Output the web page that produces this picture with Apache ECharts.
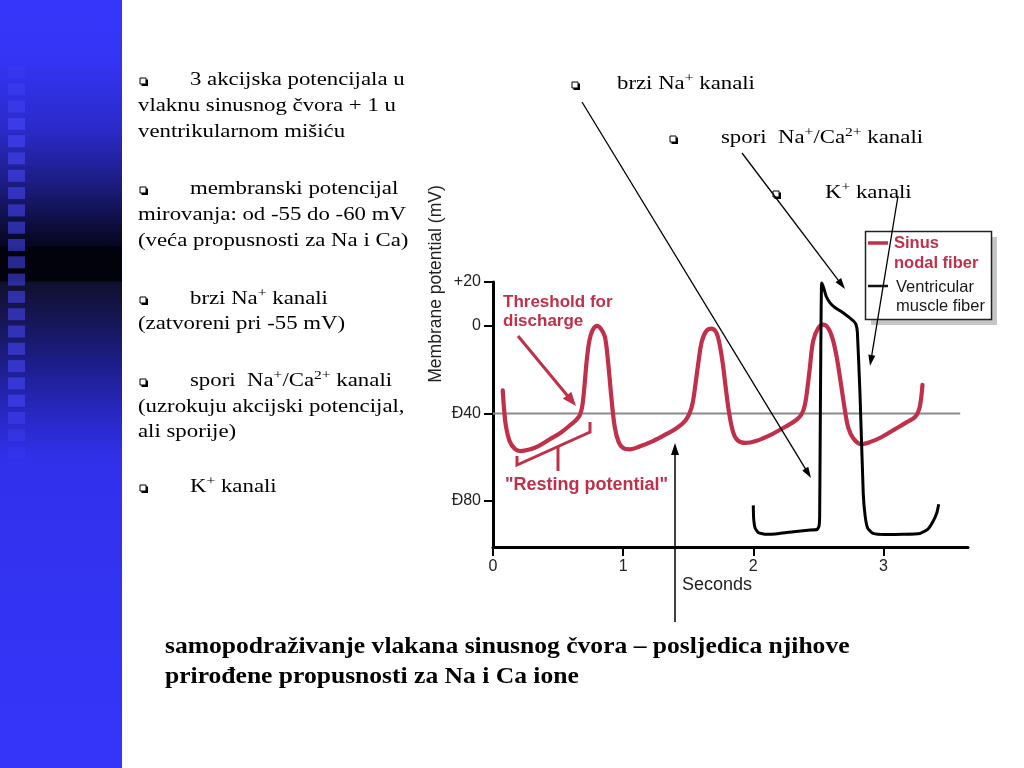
<!DOCTYPE html>
<html><head><meta charset="utf-8">
<script src="https://cdn.jsdelivr.net/npm/echarts@6/dist/echarts.min.js"></script>
<style>html,body{margin:0;padding:0;background:#fff}#c{width:1024px;height:768px}</style>
</head><body><div id="c"></div>
<script>
// ---- data (seconds, mV) ----
const sinusNodal = [
  [0.075,-29.5],[0.085,-38],[0.10,-46],[0.13,-53],[0.17,-56.3],[0.21,-57.2],[0.28,-56.5],[0.34,-55.2],
  [0.43,-52],[0.52,-48.8],[0.60,-45],[0.65,-42.3],[0.675,-39.5],[0.69,-35],[0.705,-26],[0.72,-16],
  [0.74,-7],[0.765,-2],[0.80,0],[0.83,-1.5],[0.86,-5],[0.885,-17],[0.91,-33],[0.935,-46],[0.965,-53],
  [1.00,-55.8],[1.054,-56.4],[1.13,-55],[1.233,-52.5],[1.33,-49.5],[1.41,-46.8],[1.475,-43.5],[1.51,-40],
  [1.535,-35],[1.555,-27],[1.58,-16],[1.605,-7],[1.64,-2.3],[1.68,-1.3],[1.715,-3],[1.74,-8],
  [1.765,-17],[1.79,-29],[1.815,-40],[1.845,-48.5],[1.88,-52.3],[1.94,-53.5],[2.02,-52.6],[2.15,-49.3],
  [2.25,-46],[2.33,-43],[2.37,-40.5],[2.395,-36.5],[2.415,-29],[2.435,-19],[2.46,-7],[2.50,-1],
  [2.54,0.5],[2.58,-1.5],[2.61,-6],[2.64,-14],[2.67,-25],[2.70,-37],[2.73,-46.5],[2.77,-51.5],
  [2.83,-54],[2.90,-53],[2.98,-51],[3.08,-47.5],[3.18,-44],[3.245,-41.5],[3.275,-38],[3.29,-33],[3.30,-27]
];
const ventricular = [
  [2.00,-82],[2.003,-88],[2.015,-92.5],[2.04,-94.5],[2.10,-95.2],[2.20,-94.8],[2.31,-94],[2.42,-93.3],
  [2.49,-93],[2.505,-91.5],[2.51,-87],[2.525,19.5],[2.54,17.5],[2.56,13.5],[2.59,10.5],[2.625,8.5],
  [2.70,5.5],[2.77,2.2],[2.79,0.5],[2.80,-3],[2.82,-31],[2.845,-76.5],[2.86,-87],[2.88,-92.5],
  [2.92,-94.8],[3.02,-95.3],[3.15,-95.2],[3.28,-94.8],[3.34,-93],[3.38,-89.5],[3.41,-85.5],[3.425,-81.5]
];
const thresholdLevel = [[0,-40],[3.59,-40]];
const yTickValues = [20, 0, -40, -80];
const yTickLabels = ['+20', '0', 'Ð40', 'Ð80'];
const xTickValues = [0, 1, 2, 3];
const xTickLabels = ['0', '1', '2', '3'];
const seriesNames = ['Sinus\nnodal fiber', 'Ventricular\nmuscle fiber'];
const leftLines = [
  {b:true,  x:190, base:86,  t:'3 akcijska potencijala u'},
  {b:false, x:138, base:112, t:'vlaknu sinusnog čvora + 1 u'},
  {b:false, x:138, base:138, t:'ventrikularnom mišiću'},
  {b:true,  x:190, base:195, t:'membranski potencijal'},
  {b:false, x:138, base:221, t:'mirovanja: od -55 do -60 mV'},
  {b:false, x:138, base:247, t:'(veća propusnosti za Na i Ca)'},
  {b:true,  x:190, base:305, t:'brzi Na^{+} kanali'},
  {b:false, x:138, base:330, t:'(zatvoreni pri -55 mV)'},
  {b:true,  x:190, base:387, t:'spori  Na^{+}/Ca^{2+} kanali'},
  {b:false, x:138, base:413, t:'(uzrokuju akcijski potencijal,'},
  {b:false, x:138, base:438, t:'ali sporije)'},
  {b:true,  x:190, base:493, t:'K^{+} kanali'}
];
const rightLines = [
  {bx:572, x:617, base:90,  t:'brzi Na^{+} kanali'},
  {bx:670, x:721, base:144, t:'spori  Na^{+}/Ca^{2+} kanali'},
  {bx:773, x:825, base:199, t:'K^{+} kanali'}
];
const bottomLines = [
  {x:165, base:655, t:'samopodraživanje vlakana sinusnog čvora – posljedica njihove'},
  {x:165, base:685, t:'prirođene propusnosti za Na i Ca ione'}
];

const RED = '#c0304a';
const SERIF = 'Liberation Serif';
const SANS = 'Liberation Sans';

function toRich(s){
  const out = [];
  const re = /\^\{([^}]*)\}/g;
  let last = 0, m;
  while ((m = re.exec(s))) {
    if (m.index > last) out.push('{n|' + s.slice(last, m.index) + '}');
    out.push('{s|' + m[1] + '}');
    last = re.lastIndex;
  }
  if (last < s.length) out.push('{n|' + s.slice(last) + '}');
  return out.join('');
}
function serifText(x, base, str, size, bold, sx){
  return {
    type:'text', x:x, y: base - 0.3375*size, scaleX: sx, z: 50,
    style:{
      text: toRich(str), align:'left', verticalAlign:'middle', fill:'#000',
      font: (bold?'bold ':'') + size + 'px "' + SERIF + '"',
      rich:{
        n:{fontSize:size, fontFamily:SERIF, fontWeight: bold?'bold':'normal', lineHeight:Math.round(size*1.25), verticalAlign:'middle', fill:'#000'},
        s:{fontSize:Math.round(size*0.66), fontFamily:SERIF, lineHeight:Math.round(size*0.75), verticalAlign:'top', fill:'#000'}
      }
    }
  };
}
function bullet(x, base){
  return [
    {type:'rect', z:50, shape:{x:x+1.5, y:base-6.5, width:6.5, height:6.5}, style:{fill:'#000'}},
    {type:'rect', z:51, shape:{x:x, y:base-8, width:6, height:6}, style:{fill:'#fff', stroke:'#000', lineWidth:1}}
  ];
}
function arrow(x1,y1,x2,y2,color,lw,hl,hw){
  const a = Math.atan2(y2-y1, x2-x1), c = Math.cos(a), s = Math.sin(a);
  const bx = x2 - hl*c, by = y2 - hl*s;
  return [
    {type:'line', z:100, shape:{x1:x1,y1:y1,x2:bx+c,y2:by+s}, style:{stroke:color, lineWidth:lw}},
    {type:'polygon', z:100, shape:{points:[[x2,y2],[bx - s*hw/2, by + c*hw/2],[bx + s*hw/2, by - c*hw/2]]}, style:{fill:color}}
  ];
}
function sansText(x, y, str, size, bold, color, extra){
  return Object.assign({
    type:'text', x:x, y:y, z:60,
    style:{text:str, fontSize:size, fontFamily:SANS, fontWeight: bold?'bold':'normal', fill:color, align:'left', verticalAlign:'middle'}
  }, extra||{});
}

const g = [];
// left blue band
g.push({type:'rect', z:0, shape:{x:0,y:0,width:122,height:768}, style:{fill:{
  type:'linear', x:0, y:0, x2:0, y2:1, colorStops:[
    {offset:0,color:'#3636fa'},{offset:0.08,color:'#3434f4'},{offset:0.17,color:'#2a2ac8'},
    {offset:0.24,color:'#1c1c80'},{offset:0.29,color:'#0e0e40'},{offset:0.32,color:'#060620'},
    {offset:0.323,color:'#02020c'},{offset:0.365,color:'#02020c'},{offset:0.368,color:'#10102e'},
    {offset:0.42,color:'#161658'},{offset:0.48,color:'#1e1e90'},{offset:0.54,color:'#2828c4'},
    {offset:0.6,color:'#3131ec'},{offset:1,color:'#3535fa'}]}}});
for (let i = 0; i < 23; i++) {
  const cy = 72 + i*17.3;
  const edge = Math.min(i, 22-i);
  const op = edge >= 3 ? 0.55 : 0.18 + edge*0.12;
  g.push({type:'rect', z:1, shape:{x:8, y:cy-6, width:17, height:12}, style:{fill:'rgba(72,72,255,'+op+')'}});
}
// left text
leftLines.forEach(l => {
  if (l.b) bullet(140, l.base).forEach(e => g.push(e));
  g.push(serifText(l.x, l.base, l.t, 19, false, 1.2));
});
rightLines.forEach(l => {
  bullet(l.bx, l.base).forEach(e => g.push(e));
  g.push(serifText(l.x, l.base, l.t, 19, false, 1.2));
});
bottomLines.forEach(l => g.push(serifText(l.x, l.base, l.t, 24, true, 1.065)));

// axis titles
g.push(sansText(436, 284, 'Membrane potential (mV)', 17.5, false, '#222', {rotation:Math.PI/2, style:{text:'Membrane potential (mV)', fontSize:17.5, fontFamily:SANS, fill:'#222', align:'center', verticalAlign:'middle'}}));
g.push(sansText(717, 585, 'Seconds', 18, false, '#222', {style:{text:'Seconds', fontSize:18, fontFamily:SANS, fill:'#222', align:'center', verticalAlign:'middle'}}));

// annotations
g.push(sansText(503, 302, 'Threshold for', 17, true, RED));
g.push(sansText(503, 321, 'discharge', 17, true, RED));
g.push(sansText(505, 485, '"Resting potential"', 18, true, RED));
arrow(518,336,576,406,RED,3,14,11).forEach(e => g.push(e));
g.push({type:'polyline', z:60, shape:{points:[[517,456],[517,465],[590,432],[590,422]]}, style:{stroke:RED, lineWidth:3, fill:null}});
g.push({type:'line', z:60, shape:{x1:558,y1:447,x2:558,y2:471}, style:{stroke:RED, lineWidth:3}});

// legend
g.push({type:'rect', z:88, shape:{x:871,y:237,width:126,height:88}, style:{fill:'#c6c6c6'}});
g.push({type:'rect', z:89, shape:{x:865.5,y:231.5,width:126,height:88}, style:{fill:'#fff', stroke:'#222', lineWidth:1.5}});
g.push({type:'line', z:90, shape:{x1:868,y1:243,x2:888,y2:243}, style:{stroke:RED, lineWidth:3.5}});
g.push({type:'line', z:90, shape:{x1:868,y1:286,x2:888,y2:286}, style:{stroke:'#111', lineWidth:2.5}});
seriesNames[0].split('\n').forEach((t,i) => g.push(sansText(894, 243 + i*20.5, t, 16.5, true, RED, {z:90})));
seriesNames[1].split('\n').forEach((t,i) => g.push(sansText(896, 287 + i*19.5, t, 16.5, false, '#1a1a1a', {z:90})));

// pointer arrows
arrow(582,102,811,478,'#000',1.3,11,7).forEach(e => g.push(e));
arrow(742,153,845,289,'#000',1.3,11,7).forEach(e => g.push(e));
arrow(898,196,870,366,'#000',1.3,11,7).forEach(e => g.push(e));
arrow(675,622,675,443,'#000',1.5,12,8).forEach(e => g.push(e));

const chart = echarts.init(document.getElementById('c'));
chart.setOption({
  animation:false,
  backgroundColor:'#fff',
  grid:{left:493, top:282, width:475, height:265},
  xAxis:{
    type:'value', min:0, max:3.65, interval:1,
    axisLine:{show:true, onZero:false, lineStyle:{color:'#000', width:3}},
    axisTick:{show:true, customValues:xTickValues, length:9, lineStyle:{color:'#000', width:2}},
    axisLabel:{customValues:xTickValues, formatter:v => xTickLabels[xTickValues.indexOf(v)] ?? '', margin:12, fontSize:16, fontFamily:SANS, color:'#222'},
    splitLine:{show:false}
  },
  yAxis:{
    type:'value', min:-101, max:20,
    axisLine:{show:true, onZero:false, lineStyle:{color:'#000', width:3}},
    axisTick:{show:true, customValues:yTickValues, length:9, lineStyle:{color:'#000', width:2}},
    axisLabel:{customValues:yTickValues, formatter:v => yTickLabels[yTickValues.indexOf(v)] ?? '', margin:12, fontSize:16, fontFamily:SANS, color:'#222'},
    splitLine:{show:false}
  },
  series:[
    {type:'line', name:'threshold', data:thresholdLevel, showSymbol:false, symbol:'none', z:1,
     lineStyle:{color:'#8a8a8a', width:2}, silent:true},
    {type:'line', name:seriesNames[0], data:sinusNodal, symbol:'none', smooth:0.35, z:3,
     lineStyle:{color:RED, width:4.2, cap:'round', join:'round'}},
    {type:'line', name:seriesNames[1], data:ventricular, symbol:'none', smooth:0.15, z:4,
     lineStyle:{color:'#000', width:3, join:'round'}}
  ],
  graphic:{elements:g}
});
</script></body></html>
